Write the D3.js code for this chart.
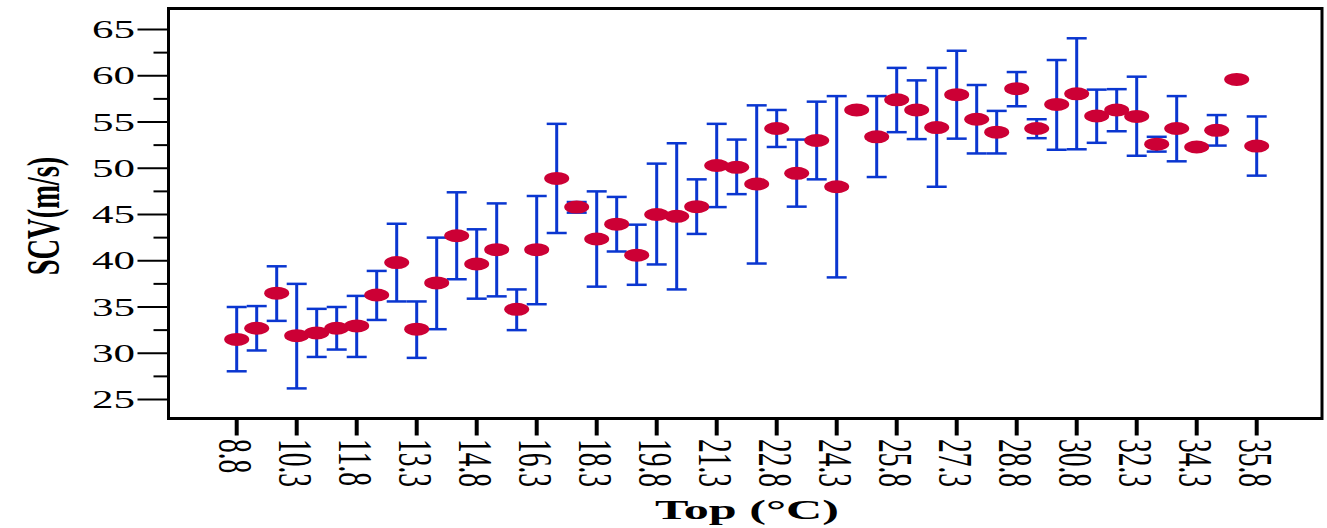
<!DOCTYPE html>
<html>
<head>
<meta charset="utf-8">
<script src="https://cdn.jsdelivr.net/npm/d3@7"></script>
<style>
  html, body { margin: 0; padding: 0; background: #fff; }
  svg { display: block; }
</style>
</head>
<body>
<div id="chart"></div>
<script>
// ---- data ----
const categories = ["8.8","9.3","9.8","10.3","10.8","11.3","11.8","12.3","12.8","13.3","13.8","14.3",
  "14.8","15.3","15.8","16.3","16.8","17.8","18.3","18.8","19.3","19.8","20.3","20.8",
  "21.3","21.8","22.3","22.8","23.3","23.8","24.3","24.8","25.3","25.8","26.3","26.8",
  "27.3","27.8","28.3","28.8","29.3","30.3","30.8","31.3","31.8","32.3","32.8","33.8",
  "34.3","34.8","35.3","35.8"];
const tickLabels = ["8.8","10.3","11.8","13.3","14.8","16.3","18.3","19.8","21.3","22.8","24.3",
  "25.8","27.3","28.8","30.8","32.3","34.3","35.8"];
const meanSCV = [31.5,32.7,36.5,31.9,32.2,32.7,32.95,36.3,39.8,32.6,37.6,42.7,
  39.65,41.2,34.75,41.2,48.9,45.8,42.35,43.95,40.6,45.0,44.8,45.85,
  50.3,50.1,48.3,54.3,49.45,53.0,48.0,56.3,53.4,57.4,56.3,54.4,
  57.95,55.3,53.9,58.6,54.3,56.9,58.05,55.65,56.3,55.6,52.6,54.3,
  52.3,54.1,59.6,52.4];
const upperSCV = [35.0,35.1,39.4,37.5,34.8,35.0,36.2,38.9,44.0,35.6,42.5,47.4,
  43.4,46.2,36.9,47.0,54.8,46.35,47.5,46.9,43.9,50.5,52.7,48.8,
  54.8,53.1,56.8,56.3,53.1,57.2,57.8,null,57.8,60.85,59.5,60.85,
  62.7,59.0,56.2,60.4,55.3,61.7,64.05,58.5,58.55,59.9,53.4,57.8,
  null,55.75,null,55.6];
const lowerSCV = [28.05,30.3,33.5,26.2,29.6,30.4,29.6,33.6,35.6,29.5,32.6,38.0,
  35.9,36.15,32.5,35.3,43.0,45.2,37.2,41.0,37.4,39.6,36.9,42.9,
  45.8,47.2,39.7,52.3,45.85,48.8,38.2,null,49.05,53.9,53.15,48.0,
  53.2,51.6,51.6,56.7,53.25,52.0,52.05,52.75,54.0,51.35,51.8,50.75,
  null,52.45,null,49.2];
const yTicks = [25,30,35,40,45,50,55,60,65];
const yMinorTicks = [27.5,32.5,37.5,42.5,47.5,52.5,57.5,62.5];

const W = 1327, H = 528;
const STRETCH = 1.72;
const frame = {left: 168.5, top: 8.5, right: 1322, bottom: 418.5};

const svg = d3.select("#chart").append("svg")
  .attr("width", W).attr("height", H)
  .style("background", "#fff");

const x = d3.scalePoint().domain(categories).range([236.7, 1256.7]);
const y = d3.scaleLinear().domain([25, 65]).range([399.5, 29.5]);

// frame
svg.append("rect")
  .attr("x", frame.left).attr("y", frame.top)
  .attr("width", frame.right - frame.left).attr("height", frame.bottom - frame.top)
  .attr("fill", "none").attr("stroke", "#000").attr("stroke-width", 3);

// y major ticks
svg.selectAll(".ymaj").data(yTicks).enter().append("line")
  .attr("x1", frame.left - 31).attr("x2", frame.left)
  .attr("y1", d => y(d)).attr("y2", d => y(d))
  .attr("stroke", "#000").attr("stroke-width", 2);
svg.selectAll(".ymin").data(yMinorTicks).enter().append("line")
  .attr("x1", frame.left - 15).attr("x2", frame.left)
  .attr("y1", d => y(d)).attr("y2", d => y(d))
  .attr("stroke", "#000").attr("stroke-width", 2);
svg.selectAll(".ylab").data(yTicks).enter().append("text")
  .attr("transform", d => `translate(135,${y(d)}) scale(${STRETCH},1)`)
  .attr("dy", "0.34em")
  .attr("text-anchor", "end")
  .attr("font-family", "'Liberation Serif', 'Times New Roman', serif")
  .attr("font-size", 25)
  .attr("fill", "#000")
  .text(d => d);

// x ticks
const tickCats = categories.filter(c => tickLabels.includes(c));
svg.selectAll(".xt").data(tickCats).enter().append("line")
  .attr("x1", d => x(d)).attr("x2", d => x(d))
  .attr("y1", frame.bottom).attr("y2", frame.bottom + 17)
  .attr("stroke", "#000").attr("stroke-width", 4);
svg.selectAll(".xlab").data(tickCats).enter().append("text")
  .attr("transform", d => `translate(${x(d) - 1},439) scale(1.75,1) rotate(90)`)
  .attr("dy", "0.34em")
  .attr("text-anchor", "start")
  .attr("font-family", "'Liberation Serif', 'Times New Roman', serif")
  .attr("font-size", 27.5)
  .attr("fill", "#000")
  .text(d => d);

// axis titles
svg.append("text")
  .attr("transform", `translate(43,216) scale(1.65,1) rotate(-90)`)
  .attr("dy", "0.35em")
  .attr("text-anchor", "middle")
  .attr("font-family", "'Liberation Serif', 'Times New Roman', serif")
  .attr("font-weight", "bold")
  .attr("font-size", 28.5)
  .attr("fill", "#000")
  .text("SCV(m/s)");
svg.append("text")
  .attr("transform", `translate(747,519) scale(1.86,1)`)
  .attr("text-anchor", "middle")
  .attr("font-family", "'Liberation Serif', 'Times New Roman', serif")
  .attr("font-weight", "bold")
  .attr("font-size", 27)
  .attr("fill", "#000")
  .text("Top (°C)");

// error bars
const rows = categories.map((c, i) => ({c, m: meanSCV[i], hi: upperSCV[i], lo: lowerSCV[i]}));
const eb = rows.filter(d => d.hi != null && d.lo != null);
const blue = "#0a36d0";
svg.selectAll(".ebv").data(eb).enter().append("line")
  .attr("x1", d => x(d.c)).attr("x2", d => x(d.c))
  .attr("y1", d => y(d.hi)).attr("y2", d => y(d.lo))
  .attr("stroke", blue).attr("stroke-width", 3);
svg.selectAll(".ebt").data(eb).enter().append("line")
  .attr("x1", d => x(d.c) - 10).attr("x2", d => x(d.c) + 10)
  .attr("y1", d => y(d.hi)).attr("y2", d => y(d.hi))
  .attr("stroke", blue).attr("stroke-width", 2.5);
svg.selectAll(".ebb").data(eb).enter().append("line")
  .attr("x1", d => x(d.c) - 10).attr("x2", d => x(d.c) + 10)
  .attr("y1", d => y(d.lo)).attr("y2", d => y(d.lo))
  .attr("stroke", blue).attr("stroke-width", 2.5);

// markers
svg.selectAll(".pt").data(rows).enter().append("ellipse")
  .attr("cx", d => x(d.c)).attr("cy", d => y(d.m))
  .attr("rx", 12.5).attr("ry", 6.5)
  .attr("fill", "#cc0035");
</script>
</body>
</html>
